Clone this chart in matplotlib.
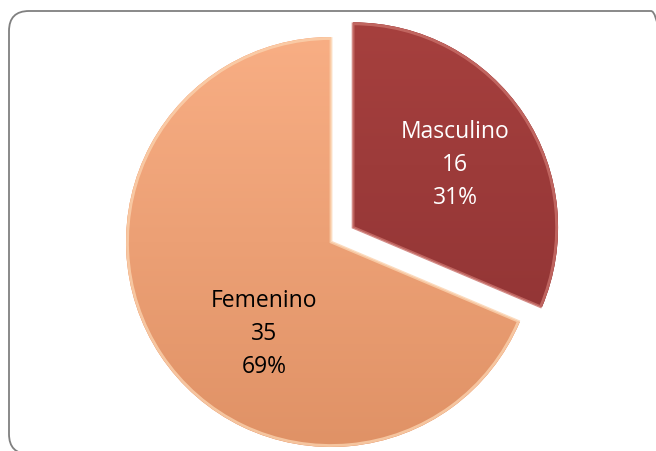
import numpy as np
import matplotlib.pyplot as plt
from matplotlib.patches import FancyBboxPatch, Wedge
from matplotlib.colors import LinearSegmentedColormap

labels = ["Masculino", "Femenino"]
counts = [16, 35]
percents = ["31%", "69%"]
top_colors = ["#A6403E", "#F8AE84"]
bottom_colors = ["#943636", "#E09266"]
edge_colors = ["#C9706A", "#FBD2AE"]
text_colors = ["white", "black"]

fig = plt.figure(figsize=(6.56, 4.52), dpi=100)
ax = fig.add_axes([0, 0, 1, 1])

R = 205
cx, cy = 331, 209
# explode is in data units here because radius is not 1
wedges, _ = ax.pie(counts, startangle=90, counterclock=False, radius=R,
                   center=(cx, cy), explode=[26.5, 0],
                   colors=top_colors, wedgeprops=dict(linewidth=0))

# vertical gradient inside each slice
grad = np.linspace(0, 1, 256).reshape(-1, 1)
for w, c1, c2, ec in zip(wedges, top_colors, bottom_colors, edge_colors):
    cmap = LinearSegmentedColormap.from_list("g", [c2, c1])
    x0, y0, x1, y1 = w.get_path().get_extents(w.get_patch_transform()).extents
    im = ax.imshow(grad, cmap=cmap, origin="lower", extent=(x0, x1, y0, y1),
                   aspect="auto", zorder=w.get_zorder() + 0.1)
    im.set_clip_path(w)
    # light bevel rim
    ax.add_patch(Wedge(w.center, w.r - 1.5, w.theta1, w.theta2, fill=False,
                       ec=ec, lw=2.0, alpha=0.8, zorder=w.get_zorder() + 0.2))

# data labels (Excel style: name, value, percent)
label_pos = [(455, 452 - 138), (264, 452 - 307)]
for (lx, ly), name, n, p, tc in zip(label_pos, labels, counts, percents, text_colors):
    for k, s in enumerate([name, str(n), p]):
        ax.text(lx, ly - 33 * k, s, ha="center", va="baseline", color=tc,
                fontsize=16.5, family="Open Sans", zorder=5)

frame = FancyBboxPatch((9, -3), 662, 443, boxstyle="round,pad=0,rounding_size=20",
                       fill=False, ec="#808080", lw=1.3, zorder=6)
ax.add_patch(frame)

ax.set_xlim(0, 656)
ax.set_ylim(0, 452)
ax.axis("off")

fig.savefig("out.png", dpi=100)
